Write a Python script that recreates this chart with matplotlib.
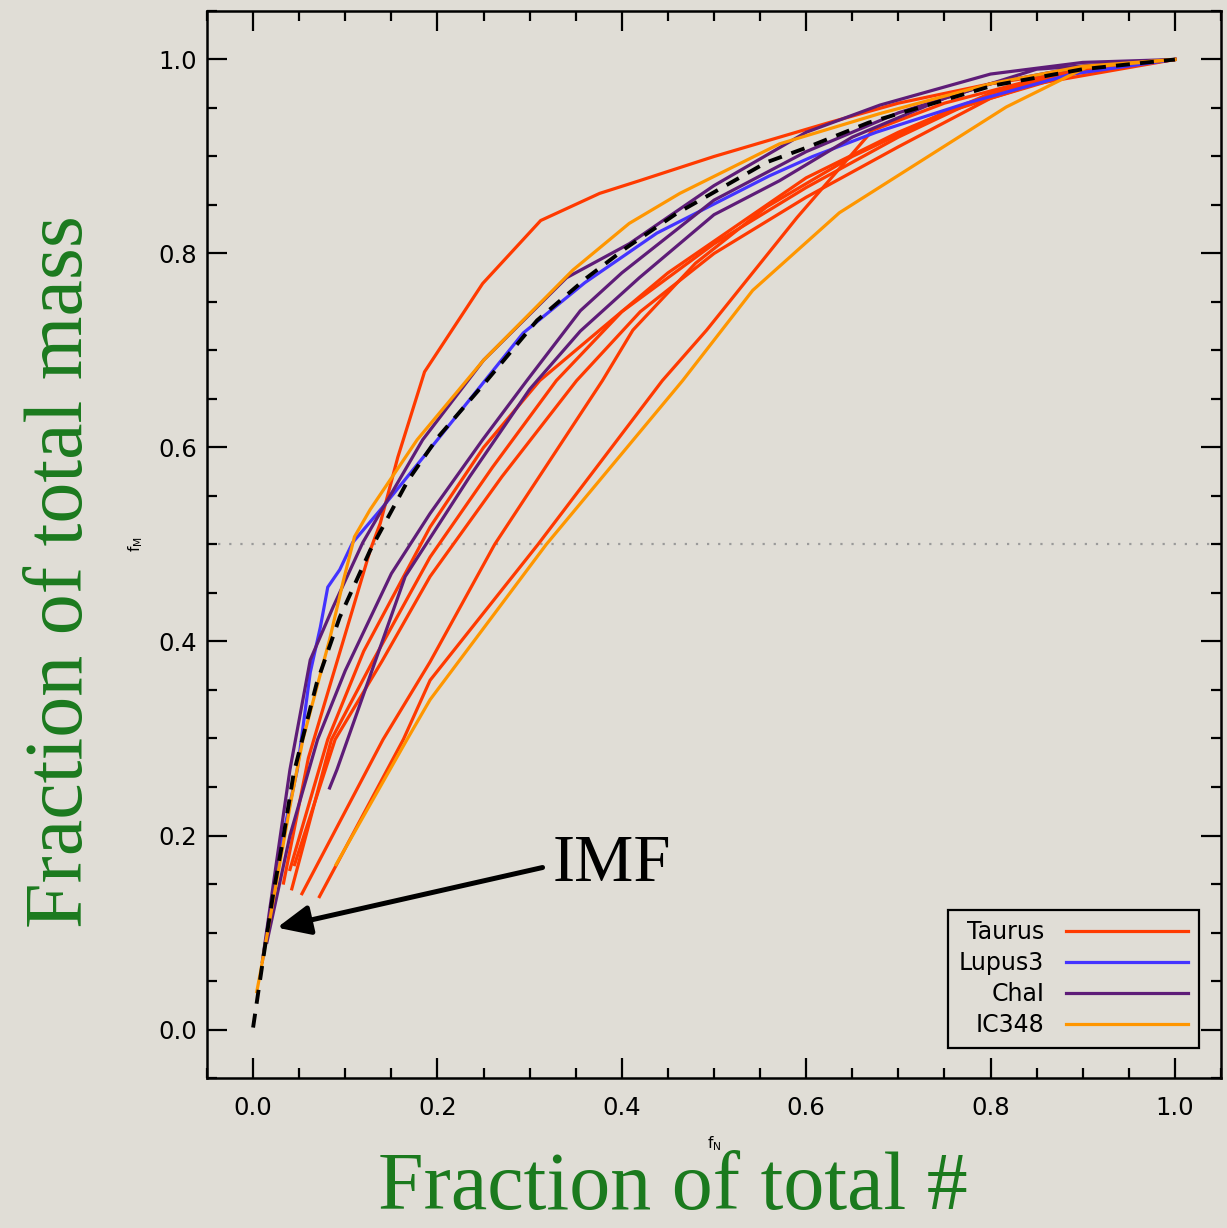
import numpy as np
import matplotlib
matplotlib.use("Agg")
import matplotlib.pyplot as plt
from matplotlib.ticker import MultipleLocator, FormatStrFormatter

# cumulative mass fraction f_M against cumulative number fraction f_N
IMF_FN = [0, 0.006, 0.013, 0.022, 0.033, 0.044, 0.069, 0.094, 0.127, 0.168, 0.2,
          0.25, 0.308, 0.362, 0.405, 0.459, 0.557, 0.6, 0.668, 0.802, 0.9, 1.0]
IMF_FM = [0.002, 0.041, 0.086, 0.141, 0.199, 0.264, 0.357, 0.425, 0.494, 0.566, 0.61,
          0.665, 0.731, 0.775, 0.806, 0.841, 0.894, 0.909, 0.935, 0.973, 0.99, 1.0]

TAURUS_FN = [
    [0.033, 0.06, 0.085, 0.107, 0.127, 0.138, 0.157, 0.186, 0.249, 0.312, 0.376, 0.419, 0.5, 0.625, 0.7, 0.8, 0.9, 1.0],
    [0.04, 0.081, 0.12, 0.192, 0.25, 0.311, 0.376, 0.45, 0.6, 0.7, 0.8, 0.9, 1.0],
    [0.042, 0.085, 0.13, 0.192, 0.26, 0.329, 0.4, 0.5, 0.6, 0.7, 0.8, 0.9, 1.0],
    [0.045, 0.089, 0.14, 0.192, 0.27, 0.351, 0.42, 0.5, 0.6, 0.7, 0.8, 0.9, 1.0],
    [0.053, 0.141, 0.192, 0.262, 0.379, 0.412, 0.48, 0.557, 0.65, 0.75, 0.85, 1.0],
    [0.072, 0.163, 0.192, 0.309, 0.444, 0.492, 0.59, 0.672, 0.75, 0.85, 1.0],
]
TAURUS_FM = [
    [0.151, 0.28, 0.36, 0.43, 0.494, 0.522, 0.59, 0.678, 0.769, 0.834, 0.862, 0.875, 0.9, 0.935, 0.955, 0.975, 0.99, 1.0],
    [0.165, 0.299, 0.39, 0.518, 0.6, 0.669, 0.721, 0.78, 0.878, 0.925, 0.965, 0.99, 1.0],
    [0.145, 0.299, 0.38, 0.487, 0.58, 0.669, 0.74, 0.81, 0.868, 0.92, 0.965, 0.99, 1.0],
    [0.17, 0.299, 0.38, 0.467, 0.57, 0.669, 0.74, 0.8, 0.858, 0.91, 0.96, 0.988, 1.0],
    [0.14, 0.299, 0.379, 0.5, 0.669, 0.721, 0.79, 0.848, 0.9, 0.945, 0.975, 1.0],
    [0.137, 0.299, 0.36, 0.5, 0.669, 0.721, 0.837, 0.927, 0.955, 0.98, 1.0],
]

LUPUS_FN = [[0.02, 0.029, 0.048, 0.062, 0.073, 0.081, 0.094, 0.108, 0.141, 0.2, 0.293,
             0.36, 0.438, 0.56, 0.607, 0.676, 0.774, 0.888, 1.0]]
LUPUS_FM = [[0.13, 0.185, 0.268, 0.368, 0.415, 0.456, 0.474, 0.502, 0.539, 0.608, 0.718,
             0.77, 0.821, 0.88, 0.9, 0.925, 0.955, 0.985, 1.0]]

CHA_FN = [
    [0.01, 0.025, 0.04, 0.062, 0.087, 0.119, 0.184, 0.25, 0.34, 0.408, 0.5, 0.6, 0.68, 0.8, 0.9, 1.0],
    [0.083, 0.091, 0.165, 0.235, 0.3, 0.355, 0.419, 0.5, 0.571, 0.65, 0.75, 0.85, 1.0],
    [0.015, 0.04, 0.07, 0.1, 0.15, 0.192, 0.249, 0.297, 0.355, 0.4, 0.5, 0.6, 0.7, 0.8, 0.9, 1.0],
]
CHA_FM = [
    [0.07, 0.17, 0.268, 0.381, 0.436, 0.502, 0.608, 0.69, 0.775, 0.81, 0.87, 0.925, 0.953, 0.985, 0.997, 1.0],
    [0.249, 0.268, 0.467, 0.57, 0.66, 0.72, 0.775, 0.84, 0.875, 0.92, 0.96, 0.99, 1.0],
    [0.09, 0.2, 0.299, 0.37, 0.47, 0.532, 0.608, 0.669, 0.741, 0.78, 0.855, 0.905, 0.945, 0.975, 0.993, 1.0],
]

IC348_FN = [
    [0.004, 0.008, 0.04, 0.054, 0.083, 0.098, 0.11, 0.127, 0.178, 0.25, 0.347, 0.408,
     0.463, 0.571, 0.679, 0.8, 0.9, 1.0],
    [0.09, 0.167, 0.192, 0.318, 0.466, 0.542, 0.636, 0.817, 0.904, 1.0],
]
IC348_FM = [
    [0.039, 0.059, 0.23, 0.299, 0.402, 0.463, 0.508, 0.536, 0.608, 0.69, 0.783, 0.831,
     0.862, 0.913, 0.944, 0.975, 0.993, 1.0],
    [0.17, 0.299, 0.34, 0.5, 0.669, 0.762, 0.842, 0.951, 0.992, 1.0],
]

regions = [("Taurus", TAURUS_FN, TAURUS_FM, "#ff3a00"),
           ("Lupus3", LUPUS_FN, LUPUS_FM, "#4433ff"),
           ("ChaI", CHA_FN, CHA_FM, "#5e1c78"),
           ("IC348", IC348_FN, IC348_FM, "#ff9600")]

BG = "#e0ddd6"
GREEN = "#1b7a1e"

fig = plt.figure(figsize=(12.27, 12.28), dpi=100)
fig.patch.set_facecolor(BG)
ax = fig.add_axes([207 / 1227, 1 - 1078 / 1228, 1014 / 1227, 1067 / 1228])
ax.set_facecolor("none")

ax.axhline(0.5, color="#9a9a9a", lw=1.6, ls=(0, (1, 4)), zorder=1)

handles = []
for name, fns, fms, col in regions:
    for i, (fn, fm) in enumerate(zip(fns, fms)):
        ln, = ax.plot(fn, fm, color=col, lw=2.3, solid_joinstyle="miter",
                      label=name if i == 0 else None, zorder=2)
        if i == 0:
            handles.append(ln)

ax.plot(IMF_FN, IMF_FM, color="black", lw=2.8, dashes=(3.6, 2.6), zorder=3)

ax.set_xlim(-0.05, 1.05)
ax.set_ylim(-0.05, 1.05)
for a in (ax.xaxis, ax.yaxis):
    a.set_major_locator(MultipleLocator(0.2))
    a.set_minor_locator(MultipleLocator(0.05))
    a.set_major_formatter(FormatStrFormatter("%.1f"))
ax.tick_params(which="both", direction="in", top=True, right=True, width=1.6,
               labelsize=17.5)
ax.tick_params(which="major", length=14.5)
ax.tick_params(which="minor", length=7)
ax.tick_params(axis="x", pad=13)
ax.tick_params(axis="y", pad=7)
for sp in ax.spines.values():
    sp.set_linewidth(1.8)

ax.set_xlabel(r"f$_\mathregular{N}$", fontsize=11, labelpad=10)
ax.set_ylabel(r"f$_\mathregular{M}$", fontsize=11, labelpad=10)

leg = ax.legend(handles=handles, loc="lower right",
                bbox_to_anchor=((1199 - 207) / 1014, 30 / 1067), borderaxespad=0,
                markerfirst=False, fontsize=17, handlelength=5.2, handletextpad=0.9,
                labelspacing=0.3, borderpad=0.45, fancybox=False, framealpha=1,
                facecolor=BG, edgecolor="black")
leg.get_frame().set_linewidth(1.6)

ax.annotate("", xy=(0.026, 0.105), xytext=(0.314, 0.167),
            arrowprops=dict(arrowstyle="-|>,head_length=1.0,head_width=0.45",
                            color="black", lw=3.6, mutation_scale=20,
                            shrinkA=0, shrinkB=0), zorder=4)
ax.text(0.325, 0.17, "IMF", fontsize=48, family="Liberation Serif",
        ha="left", va="center", zorder=4)

fig.text(62 / 1227, 1 - 572 / 1228, "Fraction of total mass", rotation=90,
         fontsize=59, family="Liberation Serif", color=GREEN,
         ha="center", va="center")
fig.text(673 / 1227, 1 / 1228, "Fraction of total #",
         fontsize=59, family="Liberation Serif", color=GREEN,
         ha="center", va="bottom")

fig.savefig("out.png", dpi=100, facecolor=BG)
